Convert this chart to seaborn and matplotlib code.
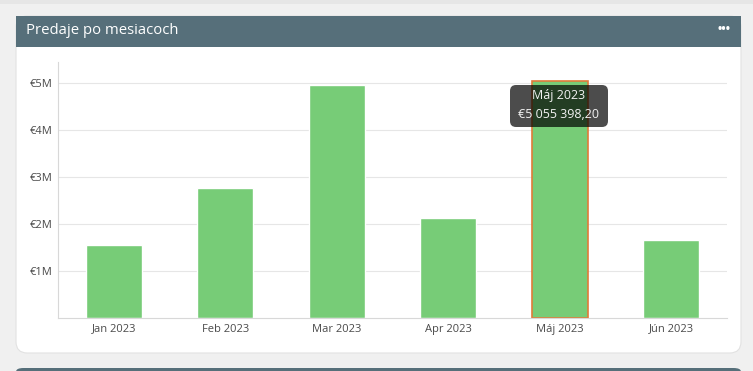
import matplotlib
matplotlib.use("Agg")
import matplotlib.pyplot as plt
import seaborn as sns
import pandas as pd
from matplotlib.patches import FancyBboxPatch, Rectangle
from matplotlib.ticker import FuncFormatter

months = ["Jan 2023", "Feb 2023", "Mar 2023", "Apr 2023", "Máj 2023", "Jún 2023"]
sales = [1560000, 2770000, 4960000, 2130000, 5055398.20, 1660000]
yticks = [1e6, 2e6, 3e6, 4e6, 5e6]
highlight = "Máj 2023"
tooltip_title = "Máj 2023"
tooltip_value = "€5 055 398,20"
title = "Predaje po mesiacoch"

W, H = 753, 371
sns.set_theme(style="white")
plt.rcParams["font.family"] = ["Open Sans", "DejaVu Sans"]

fig = plt.figure(figsize=(W / 100, H / 100), dpi=100)
fig.patch.set_facecolor("#f0f0f0")


def px(x, y, w, h):
    # pixel box (top-left origin) -> figure fraction
    return (x / W, 1 - (y + h) / H, w / W, h / H)


# neighbouring cards
fig.patches.append(Rectangle((0, 1 - 4 / H), 1, 4 / H, transform=fig.transFigure,
                             facecolor="#e6e6e6", edgecolor="none", zorder=-10))
fig.patches.append(FancyBboxPatch((16 / W, 1 - 380 / H), 725 / W, 12 / H,
                                  boxstyle="round,pad=0,rounding_size=0.01",
                                  transform=fig.transFigure, facecolor="#566f7a",
                                  edgecolor="none", zorder=-10))

# card
x0, y0, w0, h0 = px(16, 16, 725, 337)
fig.patches.append(FancyBboxPatch((x0, y0), w0, h0,
                                  boxstyle="round,pad=0,rounding_size=0.015",
                                  transform=fig.transFigure, facecolor="white",
                                  edgecolor="#e2e2e2", linewidth=0.8,
                                  mutation_aspect=W / H, zorder=-10))
hx, hy, hw, hh = px(16, 16, 725, 31)
fig.patches.append(Rectangle((hx, hy), hw, hh, transform=fig.transFigure,
                             facecolor="#566f7a", edgecolor="none", zorder=-9))
fig.text(26 / W, 1 - 31 / H, title, color="white", fontsize=10.7, va="center")
fig.text(724 / W, 1 - 30 / H, "•••", color="white", fontsize=8.5,
         va="center", ha="center", fontweight="bold")

# chart
ax = fig.add_axes(px(58, 62, 669, 256))
ax.set_facecolor("none")
df = pd.DataFrame({"month": months, "sales": sales})
sns.barplot(data=df, x="month", y="sales", color="#77cc77", saturation=1,
            width=0.5, ax=ax)
for patch, m in zip(ax.patches, months):
    patch.set_facecolor("#77cc77")
    if m == highlight:
        patch.set_edgecolor("#e07b39")
        patch.set_linewidth(1.2)

ax.set_ylim(0, 5.45e6)
ax.set_xlim(-0.5, len(months) - 0.5)
ax.set_yticks(yticks)
ax.yaxis.set_major_formatter(FuncFormatter(lambda v, p: f"€{int(v / 1e6)}M"))
ax.grid(axis="y", color="#e6e6e6", linewidth=0.8)
ax.set_axisbelow(True)
ax.set_xlabel("")
ax.set_ylabel("")
ax.tick_params(axis="both", length=0, labelsize=8, colors="#4a4a4a", pad=4)
for s in ["top", "right"]:
    ax.spines[s].set_visible(False)
for s in ["left", "bottom"]:
    ax.spines[s].set_color("#d8d8d8")
    ax.spines[s].set_linewidth(0.8)

# tooltip
tx, ty, tw, th = px(510, 85, 98, 42)
fig.patches.append(FancyBboxPatch((tx, ty), tw, th,
                                  boxstyle="round,pad=0,rounding_size=0.008",
                                  transform=fig.transFigure, facecolor="black",
                                  alpha=0.7, edgecolor="none", zorder=5,
                                  mutation_aspect=W / H))
fig.text(559 / W, 1 - 96 / H, tooltip_title, color="#f2f2f2", fontsize=9,
         ha="center", va="center", zorder=6, fontweight="medium")
fig.text(559 / W, 1 - 115 / H, tooltip_value, color="#f2f2f2", fontsize=9,
         ha="center", va="center", zorder=6, fontweight="medium")

fig.savefig("out.png", dpi=100, facecolor=fig.get_facecolor())
